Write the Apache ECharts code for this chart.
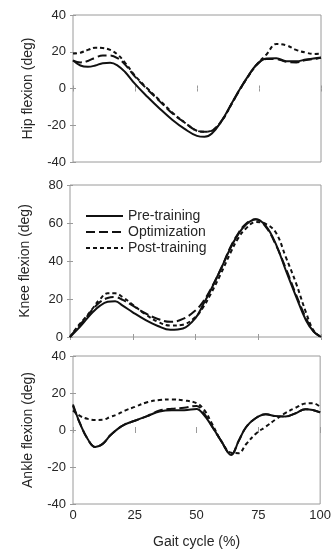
<!DOCTYPE html>
<html><head><meta charset="utf-8">
<script src="https://cdn.jsdelivr.net/npm/echarts@6/dist/echarts.min.js"></script>
<style>html,body{margin:0;padding:0;background:#fff}#c{width:334px;height:550px}</style>
</head><body><div id="c"></div>
<script>
const gait = [0,3,6,9,12,15,18,21,25,30,35,40,45,50,53,56,60,64,67,70,74,78,82,86,90,94,97,100];

const hipPre  = [15.4,12.5,11.8,12.5,13.8,14.0,12.5,9,2.5,-4.5,-11,-17,-22,-25.8,-26.3,-24.5,-17.5,-8,-1,5.5,13,16.3,16.5,14.8,14.8,15.8,16.3,16.9];
const hipOpt  = [15.2,14.2,15,16.8,18,18,16.5,13,6.5,-0.5,-7,-13.5,-18.5,-23,-23.5,-23,-17.5,-8.3,-1.2,5.3,12.8,16,16,14.5,14.2,15.5,16,16.7];
const hipPost = [19,19.5,21,22.2,22,21,18.5,14,7,0,-6.5,-13,-18.5,-23,-23.5,-22.8,-17.5,-8.3,-1.2,5.3,12.8,18.5,24.2,23.5,21,19.5,18.8,19];

const kneePre  = [0,4,8.5,13,16.5,18.5,18.8,16.5,13,9,5.8,3.8,4.5,10,17,24.5,35.5,47,54,59,62,58.5,49,35,21.5,8.8,3,0];
const kneeOpt  = [0,5,9.5,14.5,18.5,20.5,21,19.5,16.5,12.5,9.5,8,9.5,14,18.5,25,35.5,47.5,54.5,59.5,62,58,48.5,36,22.5,10,3,0];
const kneePost = [0,5.5,10,15,20,23,23,21,17,12,8,6,6.5,10.5,15.5,22.5,33,44.5,52,57,60.5,59.5,55,42,28.5,13,3.5,0];

const anklePre  = [13.8,3,-5,-9.2,-7.5,-3,0.5,3,5,7.5,10,10.7,10.7,11.4,8,2.5,-6,-13.5,-6,1.5,6.5,8.5,7.5,7.3,9,11.2,10.8,9.5];
const ankleOpt  = [13,3,-5,-9.2,-7.5,-3,0.5,3,5,7.5,10.5,11.5,12,13,9,2.5,-6,-13.3,-6,1.5,6.5,8.5,7.5,7.3,9,11.2,10.8,9.5];
const anklePost = [10.5,7.5,6,5.4,5.5,7,8.5,10.5,12.5,15,16.2,16.5,16,14.5,11,4,-6,-12.3,-12.5,-7.7,-2,1.8,5.7,9.2,12,14.3,14.5,12.5];

const seriesNames = ['Pre-training','Optimization','Post-training'];
const yNames = ['Hip flexion (deg)','Knee flexion (deg)','Ankle flexion (deg)'];
const yRanges = [[-40,40],[0,80],[-40,40]];
const xTitle = 'Gait cycle (%)';

const FONT = '"Liberation Sans", Arial, sans-serif';
const TXT = '#262626';
const GRAY = '#9a9a9a';
const dashes = ['solid',[9,4],[4,3]];

function pairs(xs, ys){ return xs.map((x,i)=>[x, ys[i]]); }

const grids = [
  {left:73, top:15, width:248, height:147},
  {left:70, top:185, width:251, height:152},
  {left:73, top:356, width:248, height:149}
].map(g=>Object.assign({show:true, borderColor:GRAY, borderWidth:1, backgroundColor:'transparent'}, g));

const xAxis = [], yAxis = [], series = [];
const panelData = [[hipPre,hipOpt,hipPost],[kneePre,kneeOpt,kneePost],[anklePre,ankleOpt,anklePost]];

for (let p=0;p<3;p++){
  const isBottom = p===2;
  const tick = {show:true, inside:true, length:3, lineStyle:{color:GRAY, width:1}};
  xAxis.push({
    type:'value', gridIndex:p, min:0, max:100, interval:25, position:'bottom',
    axisLine:{show:false}, splitLine:{show:false}, axisTick:tick,
    axisLabel:{show:isBottom, fontFamily:FONT, fontSize:13, color:TXT, margin:5},
    name: isBottom ? xTitle : '', nameLocation:'middle', nameGap:31,
    nameTextStyle:{fontFamily:FONT, fontSize:14, color:TXT}
  });
  xAxis.push({
    type:'value', gridIndex:p, min:0, max:100, interval:25, position:'top',
    axisLine:{show:false}, splitLine:{show:false}, axisTick:tick, axisLabel:{show:false}
  });
  yAxis.push({
    type:'value', gridIndex:p, min:yRanges[p][0], max:yRanges[p][1], interval:20, position:'left',
    axisLine:{show:false}, splitLine:{show:false}, axisTick:tick,
    axisLabel:{fontFamily:FONT, fontSize:13, color:TXT, margin:7},
    name:yNames[p], nameLocation:'middle', nameGap:38, nameRotate:90,
    nameTextStyle:{fontFamily:FONT, fontSize:14, color:TXT}
  });
  yAxis.push({
    type:'value', gridIndex:p, min:yRanges[p][0], max:yRanges[p][1], interval:20, position:'right',
    axisLine:{show:false}, splitLine:{show:false}, axisTick:tick, axisLabel:{show:false}
  });
  for (let s=0;s<3;s++){
    series.push({
      type:'line', name:seriesNames[s], xAxisIndex:p*2, yAxisIndex:p*2,
      data:pairs(gait, panelData[p][s]), smooth:0.4, symbol:'none', showSymbol:false,
      lineStyle:{color:'#111', width:2, type:dashes[s]}, itemStyle:{color:'#111'},
      z: 3-s, animation:false
    });
  }
}

const chart = echarts.init(document.getElementById('c'), null, {renderer:'canvas'});
chart.setOption({
  animation:false,
  backgroundColor:'#fff',
  grid:grids, xAxis:xAxis, yAxis:yAxis, series:series,
  legend:{
    data:seriesNames, orient:'vertical', left:85, top:209, padding:0,
    itemWidth:37, itemHeight:14, itemGap:2,
    itemStyle:{opacity:0},
    textStyle:{fontFamily:FONT, fontSize:14, color:TXT}
  }
});
</script></body></html>
